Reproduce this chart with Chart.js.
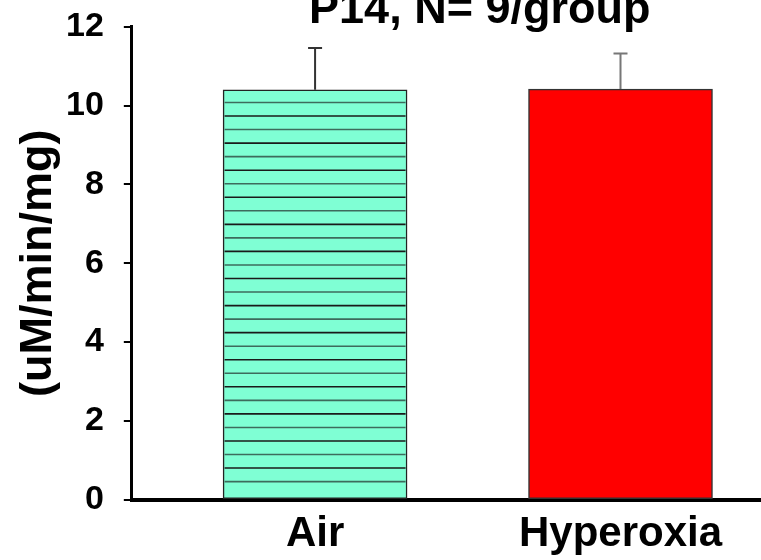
<!DOCTYPE html>
<html>
<head>
<meta charset="utf-8">
<script src="https://cdn.jsdelivr.net/npm/chart.js@4.4.0/dist/chart.umd.min.js"></script>
<style>
    html, body { margin: 0; padding: 0; background: #fff; }
    #wrap { width: 761px; height: 560px; }
</style>
</head>
<body>
<div id="wrap"><canvas id="chart"></canvas></div>
<script>
// DATA
const categories = ['Air', 'Hyperoxia'];
const means = [10.40, 10.42];
const errors = [1.06, 0.90];
const yTicks = [0, 2, 4, 6, 8, 10, 12];
const titleText = 'P14, N= 9/group';
const yTitle = '(uM/min/mg)';

const FONT = "'Liberation Sans', Arial, sans-serif";
const barColors = ['#7FFFD4', '#FF0000'];
const errColors = ['#333333', '#777777'];

// horizontal lines inside the Air bar
const stripes = {
    id: 'stripes',
    afterDatasetsDraw(chart) {
        const bar = chart.getDatasetMeta(0).data[0];
        const ctx = chart.ctx;
        const left = bar.x - bar.width / 2, right = bar.x + bar.width / 2;
        ctx.save();
        ctx.beginPath();
        ctx.rect(left + 1.5, bar.y + 1.5, bar.width - 3, bar.base - bar.y - 1.5);
        ctx.clip();
        let k = 0;
        for (let y = bar.base - 17; y > bar.y + 2; y -= 13.54) {
            ctx.strokeStyle = k % 2 ? '#1a1a1a' : '#3d6b5c';
            ctx.lineWidth = 1.6;
            ctx.beginPath();
            ctx.moveTo(left, y);
            ctx.lineTo(right, y);
            ctx.stroke();
            k++;
        }
        ctx.restore();
    }
};

// error bars (upper only)
const errorBars = {
    id: 'errorBars',
    afterDatasetsDraw(chart) {
        const ctx = chart.ctx, yScale = chart.scales.y;
        chart.getDatasetMeta(0).data.forEach((bar, i) => {
            const top = yScale.getPixelForValue(means[i] + errors[i]);
            ctx.save();
            ctx.strokeStyle = errColors[i];
            ctx.lineWidth = 2;
            ctx.beginPath();
            ctx.moveTo(bar.x, bar.y);
            ctx.lineTo(bar.x, top);
            ctx.moveTo(bar.x - 7, top);
            ctx.lineTo(bar.x + 7, top);
            ctx.stroke();
            ctx.restore();
        });
    }
};

// title sits partly cut at the top edge
const topTitle = {
    id: 'topTitle',
    afterDraw(chart) {
        const ctx = chart.ctx, a = chart.chartArea;
        ctx.save();
        ctx.font = 'bold 45px ' + FONT;
        ctx.fillStyle = '#000';
        ctx.textAlign = 'center';
        ctx.textBaseline = 'alphabetic';
        ctx.fillText(titleText, a.left + (a.right - a.left) * 0.553, 23);
        ctx.restore();
    }
};

new Chart(document.getElementById('chart'), {
    type: 'bar',
    data: {
        datasets: [{
            data: categories.map((c, i) => ({ x: i + 1, y: means[i] })),
            backgroundColor: barColors,
            borderColor: ['#222', '#333'],
            borderWidth: 1.5,
            borderSkipped: false,
            barThickness: 184
        }]
    },
    options: {
        responsive: true,
        maintainAspectRatio: false,
        animation: false,
        layout: { padding: { top: 26, right: 0, bottom: -10, left: 0 } },
        plugins: {
            legend: { display: false },
            tooltip: { enabled: false }
        },
        scales: {
            x: {
                type: 'linear',
                min: 0.4,
                max: 2.46,
                offset: false,
                z: 1,
                afterBuildTicks: scale => {
                    scale.ticks = categories.map((c, i) => ({ value: i + 1 }));
                },
                grid: { display: false, drawTicks: false },
                border: { display: true, color: '#000', width: 4 },
                ticks: {
                    autoSkip: false,
                    maxRotation: 0,
                    padding: 10,
                    color: '#000',
                    font: { family: FONT, size: 42, weight: 'bold' },
                    callback: v => categories[v - 1]
                }
            },
            y: {
                min: yTicks[0],
                max: yTicks[yTicks.length - 1],
                z: 1,
                afterBuildTicks: scale => {
                    scale.ticks = yTicks.map(v => ({ value: v }));
                },
                grid: {
                    display: true,
                    drawOnChartArea: false,
                    drawTicks: true,
                    tickLength: 8,
                    color: '#000',
                    lineWidth: 2
                },
                border: { display: true, color: '#000', width: 3 },
                ticks: {
                    padding: 20,
                    color: '#000',
                    font: { family: FONT, size: 34, weight: 'bold', lineHeight: 0.4 }
                },
                title: {
                    display: true,
                    text: yTitle,
                    color: '#000',
                    padding: { top: 12, bottom: -20 },
                    font: { family: FONT, size: 45, weight: 'bold' }
                }
            }
        }
    },
    plugins: [stripes, errorBars, topTitle]
});
</script>
</body>
</html>
